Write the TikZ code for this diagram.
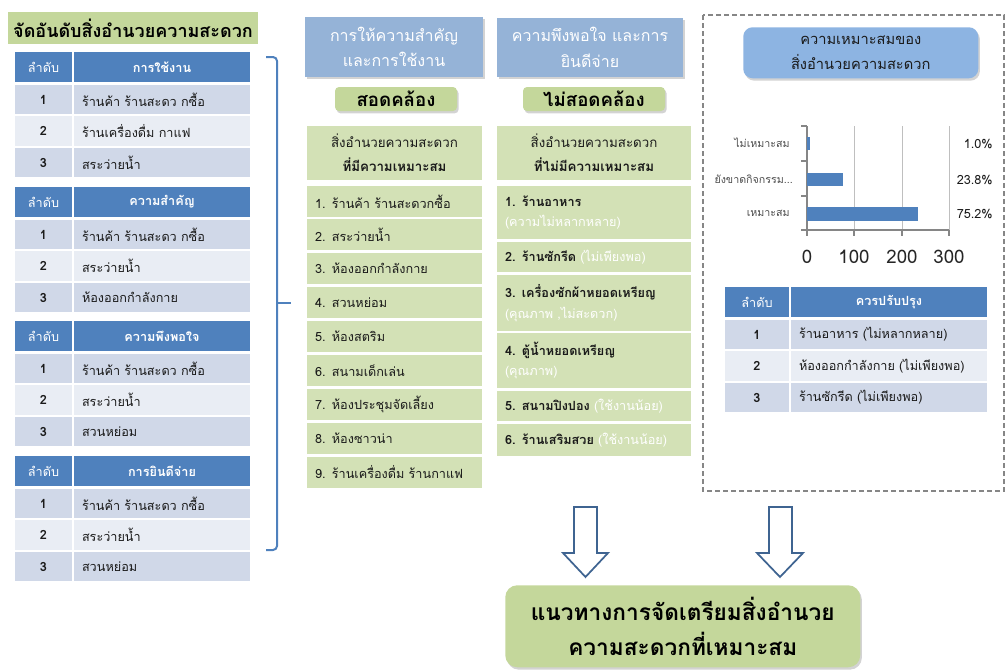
\documentclass[tikz,border=0pt]{standalone}
\usepackage{fontspec}
\setmainfont[Script=Thai]{Loma}
\usetikzlibrary{shadows}
\definecolor{hblue}{HTML}{4F81BD}
\definecolor{rowdark}{HTML}{D0D8E8}
\definecolor{rowlight}{HTML}{E9EDF4}
\definecolor{itemgreen}{HTML}{D3E1B6}
\definecolor{taggreen}{HTML}{C4D79B}
\definecolor{boxblue}{HTML}{95B3D7}
\definecolor{titleblue}{HTML}{8DB4E2}
\definecolor{arrowblue}{HTML}{3F6491}
\definecolor{darktext}{HTML}{1A1A1A}
\definecolor{gridgray}{HTML}{BFBFBF}
\definecolor{axisgray}{HTML}{868686}

\newcommand\litetxt[1]{{\color{white}\mdseries #1}}

\newcommand\tcell[8]{%
 \pgfmathsetmacro\cellw{(#4-#2)*0.75-12}%
 \pgfmathsetmacro\cellh{(#5-#3)*0.75}%
 \node[#6, anchor=north west, text width=\cellw pt, minimum height=\cellh pt, align=#7] (#1) at (#2,#3) {#8};}

\newcommand\rtable[9]{%
 \pgfmathsetmacro\colAe{#3-2}%
 \pgfmathsetmacro\yA{#5+30}\pgfmathsetmacro\yB{#5+33}\pgfmathsetmacro\yC{#5+62}%
 \pgfmathsetmacro\yD{#5+64}\pgfmathsetmacro\yE{#5+94}\pgfmathsetmacro\yF{#5+96}\pgfmathsetmacro\yG{#5+125}%
 \tcell{#1h1}{#2}{#5}{\colAe}{\yA}{hdr}{center}{ลำดับ}
 \tcell{#1h2}{#3}{#5}{#4}{\yA}{hdr}{center}{\textbf{#6}}
 \tcell{#1n1}{#2}{\yB}{\colAe}{\yC}{rowa}{center}{\textbf{1}}
 \tcell{#1c1}{#3}{\yB}{#4}{\yC}{rowa}{left}{#7}
 \tcell{#1n2}{#2}{\yD}{\colAe}{\yE}{rowb}{center}{\textbf{2}}
 \tcell{#1c2}{#3}{\yD}{#4}{\yE}{rowb}{left}{#8}
 \tcell{#1n3}{#2}{\yF}{\colAe}{\yG}{rowa}{center}{\textbf{3}}
 \tcell{#1c3}{#3}{\yF}{#4}{\yG}{rowa}{left}{#9}
}

\begin{document}
\begin{tikzpicture}[x=0.75pt,y=-0.75pt,
  cellbase/.style={inner xsep=6pt, inner ysep=0pt, outer sep=0pt, font=\fontsize{9.5}{13}\selectfont, text=darktext},
  hdr/.style={cellbase, fill=hblue, text=white},
  rowa/.style={cellbase, fill=rowdark},
  rowb/.style={cellbase, fill=rowlight},
  item/.style={cellbase, fill=itemgreen},
  item2/.style={cellbase, fill=itemgreen, font=\fontsize{9.5}{15.5}\selectfont\bfseries},
  ihead/.style={cellbase, fill=itemgreen, font=\fontsize{10}{18}\selectfont},
  shade/.style={drop shadow={opacity=0.35, shadow xshift=1.2pt, shadow yshift=-1.8pt}},
  bluebox/.style={cellbase, fill=boxblue, text=white, shade, font=\fontsize{12}{19}\selectfont},
  tag/.style={fill=taggreen, rounded corners=3pt, shade, inner sep=0pt, outer sep=0pt, font=\fontsize{14}{16}\selectfont\bfseries, text=black},
  hollow/.style={draw=arrowblue, fill=white, line width=1.3pt, line join=miter},
  bracel/.style={hblue, line width=1.5pt}
]
\useasboundingbox (0,0) rectangle (1008,669);

% ---- left title
\node[fill=taggreen, anchor=north west, minimum width=250*0.75pt, minimum height=32*0.75pt, inner sep=0pt, outer sep=0pt, font=\fontsize{13.5}{15}\selectfont\bfseries] (ltitle) at (8,12) {จัดอันดับสิ่งอำนวยความสะดวก};

% ---- left tables
\rtable{ta}{15}{74}{250}{52}{การใช้งาน}{ร้านค้า ร้านสะดว กซื้อ}{ร้านเครื่องดื่ม กาแฟ}{สระว่ายน้ำ}
\rtable{tb}{15}{74}{250}{187}{ความสำคัญ}{ร้านค้า ร้านสะดว กซื้อ}{สระว่ายน้ำ}{ห้องออกกำลังกาย}
\rtable{tc}{15}{74}{250}{321}{ความพึงพอใจ}{ร้านค้า ร้านสะดว กซื้อ}{สระว่ายน้ำ}{สวนหย่อม}
\rtable{td}{15}{74}{250}{456}{การยินดีจ่าย}{ร้านค้า ร้านสะดว กซื้อ}{สระว่ายน้ำ}{สวนหย่อม}

% ---- brace
\draw[bracel, rounded corners=3pt] (266,57) -- (277,57) -- (277,550) -- (266,550);
\draw[bracel] (277,303) -- (291,303);

% ---- middle column 1
\tcell{b1}{305}{17}{483}{77}{bluebox}{center}{การให้ความสำคัญ\\และการใช้งาน}
\node[tag, anchor=north west, minimum width=122*0.75pt, minimum height=24*0.75pt] (tag1) at (335,87) {สอดคล้อง};
\tcell{h1}{307}{126}{482}{180}{ihead}{center}{สิ่งอำนวยความสะดวก\\\textbf{ที่มีความเหมาะสม}}
\tcell{i11}{307}{186}{482}{217}{item}{left}{1. ร้านค้า ร้านสะดวกซื้อ}
\tcell{i12}{307}{219}{482}{250}{item}{left}{2. สระว่ายน้ำ}
\tcell{i13}{307}{253}{482}{284}{item}{left}{3. ห้องออกกำลังกาย}
\tcell{i14}{307}{287}{482}{318}{item}{left}{4. สวนหย่อม}
\tcell{i15}{307}{321}{482}{352}{item}{left}{5. ห้องสตริม}
\tcell{i16}{307}{355}{482}{386}{item}{left}{6. สนามเด็กเล่น}
\tcell{i17}{307}{389}{482}{420}{item}{left}{7. ห้องประชุมจัดเลี้ยง}
\tcell{i18}{307}{423}{482}{454}{item}{left}{8. ห้องซาวน่า}
\tcell{i19}{307}{457}{482}{488}{item}{left}{9. ร้านเครื่องดื่ม ร้านกาแฟ}

% ---- middle column 2
\tcell{b2}{497}{18}{683}{77}{bluebox}{center}{ความพึงพอใจ และการ\\ยินดีจ่าย}
\node[tag, anchor=north west, minimum width=142*0.75pt, minimum height=24*0.75pt] (tag2) at (523,87) {ไม่สอดคล้อง};
\tcell{h2}{497}{126}{691}{180}{ihead}{center}{สิ่งอำนวยความสะดวก\\\textbf{ที่ไม่มีความเหมาะสม}}
\tcell{i21}{497}{186}{691}{239}{item2}{left}{1. ร้านอาหาร\\\litetxt{(ความไม่หลากหลาย)}}
\tcell{i22}{497}{242}{691}{272}{item2}{left}{2. ร้านซักรีด \litetxt{(ไม่เพียงพอ)}}
\tcell{i23}{497}{275}{691}{331}{item2}{left}{3. เครื่องซักผ้าหยอดเหรียญ\\\litetxt{(คุณภาพ ,ไม่สะดวก)}}
\tcell{i24}{497}{333}{691}{388}{item2}{left}{4. ตู้น้ำหยอดเหรียญ\\\litetxt{(คุณภาพ)}}
\tcell{i25}{497}{391}{691}{421}{item2}{left}{5. สนามปิงปอง \litetxt{(ใช้งานน้อย)}}
\tcell{i26}{497}{424}{691}{456}{item2}{left}{6. ร้านเสริมสวย \litetxt{(ใช้งานน้อย)}}

% ---- right dashed panel
\draw[axisgray, line width=1pt, dash pattern=on 4pt off 2pt] (703,15) rectangle (1004,491);
\node[fill=titleblue, rounded corners=7pt, shade, anchor=north west, minimum width=235*0.75pt, minimum height=51*0.75pt, inner sep=0pt, align=center, font=\fontsize{11}{19}\selectfont, text=darktext] (rtitle) at (743,27) {ความเหมาะสมของ\\สิ่งอำนวยความสะดวก};

% chart
\foreach \gx in {854,902,949} \draw[gridgray, line width=0.6pt] (\gx,126) -- (\gx,230);
\draw[axisgray, line width=0.8pt] (807,126) -- (807,230) -- (949,230);
\foreach \ty in {126,161,196,230} \draw[axisgray, line width=0.8pt] (801,\ty) -- (807,\ty);
\foreach \tx in {807,854,902,949} \draw[axisgray, line width=0.8pt] (\tx,230) -- (\tx,236);
\fill[hblue] (807,137) rectangle (810,150);
\fill[hblue] (807,173) rectangle (843,186);
\fill[hblue] (807,207) rectangle (918,221);
\begin{scope}[every node/.style={font=\fontsize{8}{10}\selectfont, text=black!70, inner sep=0pt}]
\node[anchor=east] (c1) at (790,143) {ไม่เหมาะสม};
\node[anchor=east] (c2) at (793,179) {ยังขาดกิจกรรม...};
\node[anchor=east] (c3) at (790,213) {เหมาะสม};
\end{scope}
\begin{scope}[every node/.style={font=\fontsize{9.5}{11}\selectfont, text=darktext, inner sep=0pt}]
\node[anchor=east] (p1) at (993,144) {1.0\%};
\node[anchor=east] (p2) at (993,180) {23.8\%};
\node[anchor=east] (p3) at (993,214) {75.2\%};
\end{scope}
\begin{scope}[every node/.style={font=\fontsize{14}{16}\selectfont, text=black!85, inner sep=0pt}]
\node (x0) at (807,257) {0};
\node (x1) at (854,257) {100};
\node (x2) at (902,257) {200};
\node (x3) at (949,257) {300};
\end{scope}

% right table
\rtable{te}{725}{791}{987}{287}{ควรปรับปรุง}{ร้านอาหาร (ไม่หลากหลาย)}{ห้องออกกำลังกาย (ไม่เพียงพอ)}{ร้านซักรีด (ไม่เพียงพอ)}

% ---- arrows
\draw[hollow] (574,507) -- (597,507) -- (597,553) -- (608,553) -- (585.5,577) -- (563,553) -- (574,553) -- cycle;
\draw[hollow] (769,507) -- (792,507) -- (792,553) -- (803,553) -- (780,577) -- (757,553) -- (769,553) -- cycle;

% ---- bottom box
\node[fill=taggreen, rounded corners=9pt, shade, anchor=north west, minimum width=355*0.75pt, minimum height=82*0.75pt, inner sep=0pt, align=center, font=\fontsize{17}{26}\selectfont\bfseries, text=black] (final) at (505,585) {แนวทางการจัดเตรียมสิ่งอำนวย\\ความสะดวกที่เหมาะสม};
\end{tikzpicture}
\end{document}
